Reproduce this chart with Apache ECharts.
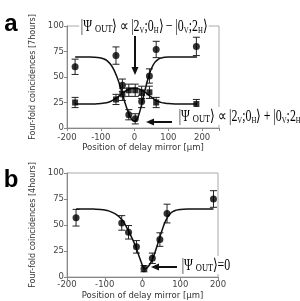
<!DOCTYPE html>
<html><head><meta charset="utf-8">
<script src="https://cdn.jsdelivr.net/npm/echarts@6/dist/echarts.min.js"></script>
<style>html,body{margin:0;padding:0;background:#fff}#c{width:300px;height:301px}</style>
</head><body><div id="c"></div>
<script>
// ---- tick labels ----
const xTickLabels = [-200, -100, 0, 100, 200];
const yTickLabels = [0, 25, 50, 75, 100];

// ---- panel a: measured points ----
const posA = [-176, -55, -36, -17, 2, 21, 44, 64, 183];
const circlesA = [60, 71, 42, 13, 9, 26, 51, 77, 80];
const circlesAErr = [7.5, 8.5, 6, 5, 5, 6, 7, 8, 9];
const squaresA = [25, 28, 33, 37, 37, 35, 35, 25, 23.5];
const squaresAErr = [5, 5, 6, 6, 6, 6, 6, 5, 4.5];

// ---- panel a: fitted curves ----
const curveAx = [-176,-150,-130,-120,-110,-100,-90,-80,-70,-60,-50,-40,-30,-20,-10,0,10,20,30,40,50,60,70,80,90,100,120,150,185];
const curveAdip = [69.5,69.5,69.5,69.4,69.2,68.7,67.6,65.6,62.0,56.3,48.2,38.0,26.8,16.6,9.2,6.5,10.7,21.7,35.7,48.7,58.3,64.3,67.4,68.7,69.3,69.5,69.5,69.5,69.5];
const curveApeak = [23.5,23.5,23.5,23.6,23.7,24.0,24.4,25.0,26.2,28.0,30.3,33.0,35.5,37.5,38.7,39.0,38.6,37.3,35.3,32.8,30.2,27.8,26.0,24.9,24.3,23.9,23.6,23.5,23.5];

// ---- panel b: measured points ----
const posB = [-176, -55, -37, -16, 4, 26, 46, 65, 188];
const circlesB = [57, 52, 43, 29, 8, 18, 36, 61, 75];
const circlesBErr = [8, 7, 6.5, 6, 3, 5, 6.5, 9, 8];

// ---- panel b: fitted curve ----
const curveBx = [-176,-150,-130,-110,-100,-90,-80,-70,-60,-50,-40,-30,-20,-10,0,5,10,20,30,40,50,60,70,80,90,100,120,150,188];
const curveBy = [65.5,65.5,65.3,65.0,64.4,63.6,62.2,60.2,57.2,52.8,46.5,39.0,31.0,21.0,11.0,7.6,8.2,12.5,20.5,31.5,43.0,53.0,59.5,62.8,64.3,65.0,65.4,65.5,65.5];

const zip2 = (xs, ys) => xs.map((x, i) => [x, ys[i]]);
const zip3 = (xs, ys, es) => xs.map((x, i) => [x, ys[i], es[i]]);

function errRender(params, api) {
  const x = api.value(0), y = api.value(1), e = api.value(2);
  const t = api.coord([x, y + e]), b = api.coord([x, y - e]);
  const w = 3.5;
  const st = { stroke: '#222', lineWidth: 1 };
  return { type: 'group', children: [
    { type: 'line', shape: { x1: t[0], y1: t[1], x2: b[0], y2: b[1] }, style: st },
    { type: 'line', shape: { x1: t[0] - w, y1: t[1], x2: t[0] + w, y2: t[1] }, style: st },
    { type: 'line', shape: { x1: b[0] - w, y1: b[1], x2: b[0] + w, y2: b[1] }, style: st }
  ]};
}

const FONT = 'DejaVu Sans';
const labelStyle = { color: '#444', fontSize: 8.5, fontFamily: FONT };
const nameStyle = { color: '#333', fontSize: 8.5, fontFamily: FONT };
const yNameStyle = { color: '#333', fontSize: 8, fontFamily: FONT };

function xAxis(gi, max, margin) {
  return {
    gridIndex: gi, type: 'value', min: -200, max: max, interval: 100,
    name: 'Position of delay mirror [μm]', nameLocation: 'middle', nameGap: 14,
    nameTextStyle: nameStyle,
    axisLine: { onZero: false, lineStyle: { color: '#888', width: 1 } },
    axisTick: { show: true, length: 3, lineStyle: { color: '#888' } },
    splitLine: { show: false },
    axisLabel: Object.assign({ margin: margin, formatter: v => xTickLabels.includes(v) ? String(v) : '' }, labelStyle)
  };
}
function yAxis(gi, name) {
  return {
    gridIndex: gi, type: 'value', min: 0, max: 100, interval: 25,
    name: name, nameLocation: 'middle', nameGap: 22,
    nameTextStyle: yNameStyle,
    axisLine: { show: true, onZero: false, lineStyle: { color: '#888', width: 1 } },
    axisTick: { show: true, length: 3, lineStyle: { color: '#888' } },
    splitLine: { show: false },
    axisLabel: Object.assign({ margin: 3, formatter: v => yTickLabels.includes(v) ? String(v) : '' }, labelStyle)
  };
}

const rich = {
  a: { fontFamily: 'Liberation Serif', fontSize: 14, color: '#111', verticalAlign: 'bottom', lineHeight: 16 },
  o: { fontFamily: 'Liberation Serif', fontSize: 10, color: '#111', verticalAlign: 'bottom', lineHeight: 16 },
  s: { fontFamily: 'Liberation Serif', fontSize: 8, color: '#111', verticalAlign: 'bottom', lineHeight: 16 }
};
const f1 = '{a||Ψ }{o|OUT}{a|⟩ ∝ |2}{s|V}{a|;0}{s|H}{a|⟩ − |0}{s|V}{a|;2}{s|H}{a|⟩}';
const f2 = '{a||Ψ }{o|OUT}{a|⟩ ∝ |2}{s|V}{a|;0}{s|H}{a|⟩ + |0}{s|V}{a|;2}{s|H}{a|⟩}';
const f3 = '{a||Ψ }{o|OUT}{a|⟩=0}';

function arrow(x1, y1, x2, y2) {
  const dx = x2 - x1, dy = y2 - y1, L = Math.hypot(dx, dy);
  const ux = dx / L, uy = dy / L, hl = 8, hw = 3.5;
  const bx = x2 - ux * hl, by = y2 - uy * hl;
  return { type: 'group', z: 50, children: [
    { type: 'line', shape: { x1: x1, y1: y1, x2: bx + ux, y2: by + uy }, style: { stroke: '#111', lineWidth: 2 } },
    { type: 'polygon', shape: { points: [[x2, y2], [bx - uy * hw, by + ux * hw], [bx + uy * hw, by - ux * hw]] }, style: { fill: '#111' } }
  ]};
}

const chart = echarts.init(document.getElementById('c'), null, { renderer: 'canvas' });
chart.setOption({
  animation: false,
  backgroundColor: '#fff',
  grid: [
    { left: 67, top: 26, width: 152, height: 102, show: true, borderColor: '#aaa', borderWidth: 1, backgroundColor: 'transparent' },
    { left: 67, top: 173, width: 151, height: 104, show: true, borderColor: '#aaa', borderWidth: 1, backgroundColor: 'transparent' }
  ],
  xAxis: [xAxis(0, 250, 5), xAxis(1, 200, 3)],
  yAxis: [yAxis(0, 'Four-fold coincidences [7hours]'), yAxis(1, 'Four-fold coincidences [4hours]')],
  series: [
    { type: 'line', xAxisIndex: 0, yAxisIndex: 0, data: zip2(curveAx, curveAdip), smooth: 0.4, showSymbol: false, lineStyle: { color: '#111', width: 1.5 } },
    { type: 'line', xAxisIndex: 0, yAxisIndex: 0, data: zip2(curveAx, curveApeak), smooth: 0.4, showSymbol: false, lineStyle: { color: '#111', width: 1.5 } },
    { type: 'custom', xAxisIndex: 0, yAxisIndex: 0, renderItem: errRender, encode: { x: 0, y: 1 }, data: zip3(posA, circlesA, circlesAErr), z: 3 },
    { type: 'custom', xAxisIndex: 0, yAxisIndex: 0, renderItem: errRender, encode: { x: 0, y: 1 }, data: zip3(posA, squaresA, squaresAErr), z: 3 },
    { type: 'scatter', xAxisIndex: 0, yAxisIndex: 0, data: zip2(posA, circlesA), symbol: 'circle', symbolSize: 7, itemStyle: { color: '#000' }, z: 4 },
    { type: 'scatter', xAxisIndex: 0, yAxisIndex: 0, data: zip2(posA, squaresA), symbol: 'rect', symbolSize: 6, itemStyle: { color: '#000' }, z: 4 },
    { type: 'line', xAxisIndex: 1, yAxisIndex: 1, data: zip2(curveBx, curveBy), smooth: 0.4, showSymbol: false, lineStyle: { color: '#111', width: 1.5 } },
    { type: 'custom', xAxisIndex: 1, yAxisIndex: 1, renderItem: errRender, encode: { x: 0, y: 1 }, data: zip3(posB, circlesB, circlesBErr), z: 3 },
    { type: 'scatter', xAxisIndex: 1, yAxisIndex: 1, data: zip2(posB, circlesB), symbol: 'circle', symbolSize: 7, itemStyle: { color: '#000' }, z: 4 }
  ],
  graphic: [
    { type: 'text', x: 11, y: 24, style: { text: 'a', font: 'bold 24px "Liberation Sans"', fill: '#000', align: 'center', verticalAlign: 'middle' } },
    { type: 'text', x: 11, y: 180, style: { text: 'b', font: 'bold 24px "Liberation Sans"', fill: '#000', align: 'center', verticalAlign: 'middle' } },
    { type: 'text', x: 144, y: 26, z: 40, scaleX: 0.85, scaleY: 1.12, style: { text: f1, rich: rich, align: 'center', verticalAlign: 'middle', backgroundColor: '#fff', padding: [0, 2] } },
    { type: 'text', x: 177, y: 116, z: 40, scaleX: 0.85, scaleY: 1.12, style: { text: f2, rich: rich, align: 'left', verticalAlign: 'middle', backgroundColor: '#fff', padding: [0, 2] } },
    { type: 'text', x: 180, y: 265, z: 40, scaleX: 0.85, scaleY: 1.12, style: { text: f3, rich: rich, align: 'left', verticalAlign: 'middle', backgroundColor: '#fff', padding: [0, 2] } },
    arrow(135, 36, 135, 75),
    arrow(172, 122, 146, 122),
    arrow(177, 267, 151, 267)
  ]
});
</script>
</body></html>
